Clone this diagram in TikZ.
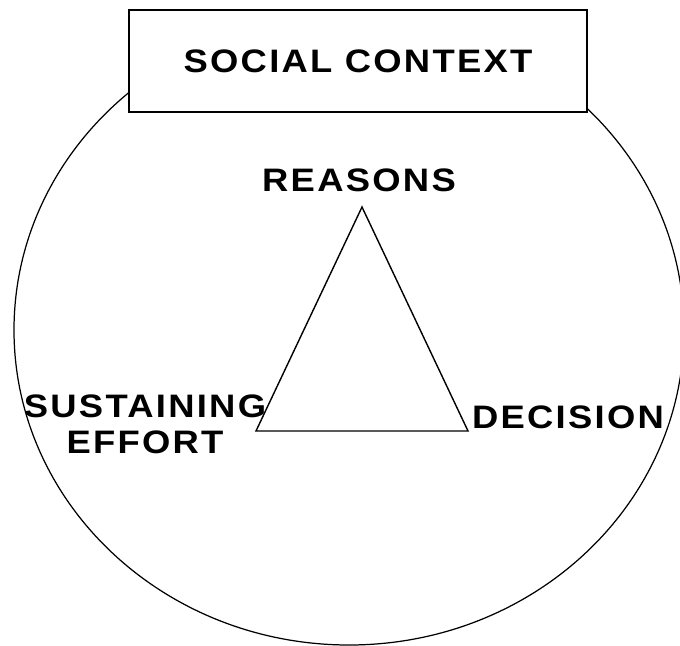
\documentclass[tikz,border=0pt]{standalone}
\usepackage{fontspec}
\newfontfamily\labelfont{Liberation Sans}[FakeStretch=1.12,LetterSpace=7]

\begin{document}
\begin{tikzpicture}[x=0.02cm, y=-0.02cm]

      \tikzset{word/.style={inner sep=0pt, align=center, font=\labelfont\bfseries\fontsize{18.5}{20.5}\selectfont},
               frame/.style={draw, line width=1pt, fill=white, inner sep=0pt, minimum width=458*0.02cm, minimum height=102*0.02cm}}
      \useasboundingbox (0,0) rectangle (680,646);
%% Outer context
      	\draw[line width=0.7pt] (349,330) ellipse [x radius=335, y radius=315];
      	\node[frame] (context) at (358,61) {};
      	\node[word] (social) at (context.center) {SOCIAL CONTEXT};
%% Corners
      	\coordinate (top) at (362,207);
      	\coordinate (left) at (256,431);
      	\coordinate (right) at (468,431);
%Edges
		\draw[line width=0.8pt, line join=miter] (top) -- (right) -- (left) -- cycle;
%% Labels
      	\node[word] (reasons) at (359,180) {REASONS};
      	\node[word] (effort) at (145,424) {SUSTAINING\\EFFORT};
      	\node[word] (decision) at (568,417) {DECISION};

	\end{tikzpicture}
\end{document}
